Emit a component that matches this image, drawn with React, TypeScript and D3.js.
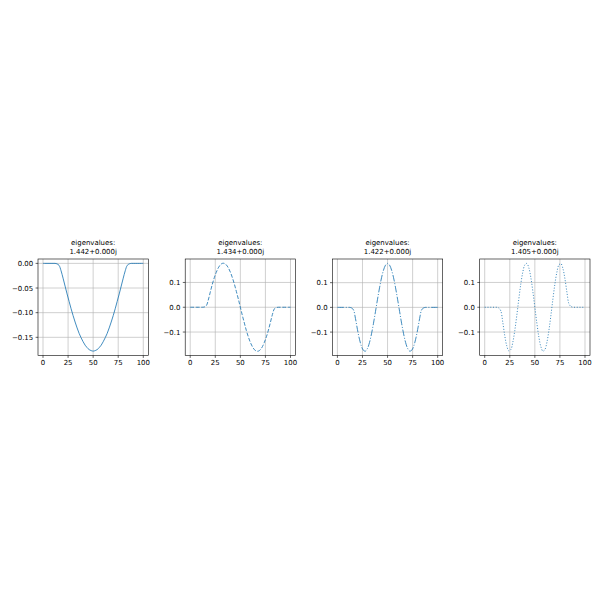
import React from "react";
import * as d3 from "d3";

// sample positions along the grid (every other point)
const xs = [
  0, 2, 4, 6, 8, 10, 12, 14, 16, 18, 20, 22, 24, 26, 28, 30, 32, 34, 36, 38, 40,
  42, 44, 46, 48, 50, 52, 54, 56, 58, 60, 62, 64, 66, 68, 70, 72, 74, 76, 78,
  80, 82, 84, 86, 88, 90, 92, 94, 96, 98, 100,
];

const mode1 = [
  0, 0, 0, 0, 0, 0, 0, -0.001, -0.004, -0.015, -0.03, -0.046, -0.062, -0.077,
  -0.092, -0.106, -0.119, -0.131, -0.142, -0.151, -0.159, -0.166, -0.171,
  -0.175, -0.177, -0.178, -0.177, -0.175, -0.171, -0.166, -0.159, -0.151,
  -0.142, -0.131, -0.119, -0.106, -0.092, -0.077, -0.062, -0.046, -0.03,
  -0.015, -0.004, -0.001, 0, 0, 0, 0, 0, 0, 0,
];

const mode2 = [
  0, 0, 0, 0, 0, 0, 0, 0.001, 0.006, 0.029, 0.061, 0.092, 0.119, 0.141, 0.159,
  0.171, 0.177, 0.177, 0.171, 0.159, 0.142, 0.12, 0.094, 0.064, 0.033, 0,
  -0.033, -0.064, -0.094, -0.12, -0.142, -0.159, -0.171, -0.177, -0.177,
  -0.171, -0.159, -0.141, -0.119, -0.092, -0.061, -0.029, -0.006, -0.001, 0, 0,
  0, 0, 0, 0, 0,
];

const mode3 = [
  0, 0, 0, 0, 0, 0, 0, -0.002, -0.01, -0.045, -0.09, -0.129, -0.158, -0.174,
  -0.177, -0.166, -0.142, -0.107, -0.064, -0.016, 0.033, 0.079, 0.12, 0.151,
  0.171, 0.178, 0.171, 0.151, 0.12, 0.079, 0.033, -0.016, -0.064, -0.107,
  -0.142, -0.166, -0.177, -0.174, -0.158, -0.129, -0.09, -0.045, -0.01,
  -0.002, 0, 0, 0, 0, 0, 0, 0,
];

const mode4 = [
  0, 0, 0, 0, 0, 0, 0, -0.003, -0.014, -0.06, -0.115, -0.156, -0.176, -0.171,
  -0.142, -0.094, -0.033, 0.033, 0.094, 0.142, 0.171, 0.177, 0.159, 0.12,
  0.064, 0, -0.064, -0.12, -0.159, -0.177, -0.171, -0.142, -0.094, -0.033,
  0.033, 0.094, 0.142, 0.171, 0.176, 0.156, 0.115, 0.06, 0.014, 0.003, 0, 0,
  0, 0, 0, 0, 0,
];

const modes = [mode1, mode2, mode3, mode4];
const eigenvalues = ["1.442+0.000j", "1.434+0.000j", "1.422+0.000j", "1.405+0.000j"];
const dashes = ["none", "3.85,1.67", "6.67,1.67,1.04,1.67", "1.04,1.72"];

const xTicks = [0, 25, 50, 75, 100];
const yTicksFirst = [0, -0.05, -0.1, -0.15];
const yTicksOther = [0.1, 0, -0.1];

const FONT = "DejaVu Sans, sans-serif";
const fmtMinus = (s: string) => s.replace("-", "\u2212");

const panelLefts = [38, 185.2, 332.4, 479.7];
const panelW = 110.3;
const panelTop = 259;
const panelH = 96.5;

function Panel({ idx }: { idx: number }) {
  const data = modes[idx];
  const left = panelLefts[idx];
  const x = d3.scaleLinear().domain([-5, 105]).range([left, left + panelW]);
  const [lo, hi] = d3.extent(data) as [number, number];
  const pad = (hi - lo) * 0.05;
  const y = d3
    .scaleLinear()
    .domain([lo - pad, hi + pad])
    .range([panelTop + panelH, panelTop]);

  const line = d3
    .line<number>()
    .x((d, i) => x(xs[i]))
    .y((d) => y(d))
    .curve(d3.curveCatmullRom);

  const yTicks = idx === 0 ? yTicksFirst : yTicksOther;
  const fmt = idx === 0 ? d3.format(".2f") : d3.format(".1f");
  const bottom = panelTop + panelH;

  return (
    <g>
      {/* grid */}
      {xTicks.map((t) => (
        <line key={"gx" + t} x1={x(t)} x2={x(t)} y1={panelTop} y2={bottom} stroke="#b0b0b0" strokeWidth={0.6} />
      ))}
      {yTicks.map((t) => (
        <line key={"gy" + t} x1={left} x2={left + panelW} y1={y(t)} y2={y(t)} stroke="#b0b0b0" strokeWidth={0.6} />
      ))}
      <path
        d={line(data) || ""}
        fill="none"
        stroke="#1f77b4"
        strokeWidth={0.85}
        strokeDasharray={dashes[idx]}
      />
      {/* spines */}
      <rect x={left} y={panelTop} width={panelW} height={panelH} fill="none" stroke="#000" strokeWidth={0.6} />
      {xTicks.map((t) => (
        <g key={"xt" + t}>
          <line x1={x(t)} x2={x(t)} y1={bottom} y2={bottom + 2.4} stroke="#000" strokeWidth={0.6} />
          <text x={x(t)} y={bottom + 9.6} fontSize={6.94} fontFamily={FONT} textAnchor="middle" fill="#000">
            {t}
          </text>
        </g>
      ))}
      {yTicks.map((t) => (
        <g key={"yt" + t}>
          <line x1={left - 2.4} x2={left} y1={y(t)} y2={y(t)} stroke="#000" strokeWidth={0.6} />
          <text x={left - 4.8} y={y(t) + 2.5} fontSize={6.94} fontFamily={FONT} textAnchor="end" fill="#000">
            {fmtMinus(fmt(t))}
          </text>
        </g>
      ))}
      <text x={left + panelW / 2} y={245.3} fontSize={6.94} fontFamily={FONT} textAnchor="middle" fill="#000">
        eigenvalues:
      </text>
      <text x={left + panelW / 2} y={253.5} fontSize={6.94} fontFamily={FONT} textAnchor="middle" fill="#000">
        {eigenvalues[idx]}
      </text>
    </g>
  );
}

export default function App() {
  return (
    <svg
      width={600}
      height={600}
      style={{ position: "absolute", left: 0, top: 0, background: "#fff" }}
    >
      <rect width={600} height={600} fill="#fff" />
      {modes.map((_, i) => (
        <Panel key={i} idx={i} />
      ))}
    </svg>
  );
}
